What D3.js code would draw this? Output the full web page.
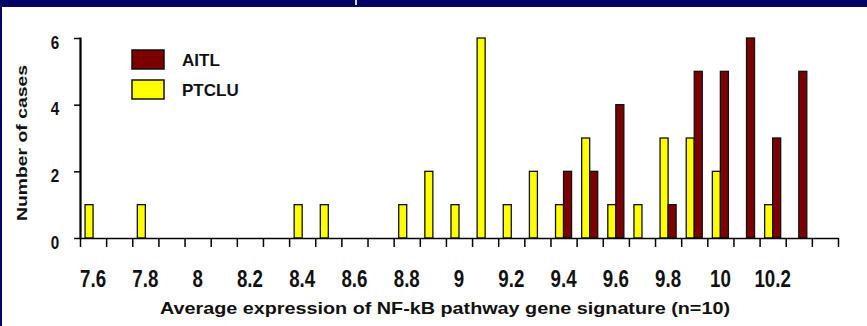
<!DOCTYPE html>
<html>
<head>
<meta charset="utf-8">
<script src="https://cdn.jsdelivr.net/npm/d3@7"></script>
<style>
  html, body { margin: 0; padding: 0; background: #fff; }
  svg { display: block; font-family: "Liberation Sans", Arial, sans-serif; }
</style>
</head>
<body>
<svg id="chart" width="867" height="326"></svg>
<script>
// ---- data ----
const categories = ["7.6","7.7","7.8","7.9","8.0","8.1","8.2","8.3","8.4","8.5","8.6","8.7","8.8","8.9","9.0","9.1","9.2","9.3","9.4","9.5","9.6","9.7","9.8","9.9","10.0","10.1","10.2","10.3","10.4"];
const ptcluCounts = [1,0,1,0,0,0,0,0,1,1,0,0,1,2,1,6,1,2,1,3,1,1,3,3,2,0,1,0,0];
const aitlCounts  = [0,0,0,0,0,0,0,0,0,0,0,0,0,0,0,0,0,0,2,2,4,0,1,5,5,6,3,5,0];
const xTickLabels = ["7.6","7.8","8","8.2","8.4","8.6","8.8","9","9.2","9.4","9.6","9.8","10","10.2"];
const yTickValues = [0,2,4,6];
const seriesNames = ["PTCLU","AITL"];
const legendOrder = ["AITL","PTCLU"];
const colors = { AITL: "#7d0000", PTCLU: "#ffff00" };
const xTitle = "Average expression of NF-kB pathway gene signature (n=10)";
const yTitle = "Number of cases";

(function () {
const svg = d3.select("#chart");

// frame decoration
svg.append("rect").attr("x",0).attr("y",0).attr("width",867).attr("height",7).attr("fill","#030366");
svg.append("rect").attr("x",0).attr("y",0).attr("width",2).attr("height",326).attr("fill","#030366");
svg.append("rect").attr("x",355).attr("y",0).attr("width",2).attr("height",5).attr("fill","#d8d8e8");

const pLeft = 80, pRight = 838, pTop = 38, pBottom = 238;

const x = d3.scaleBand().domain(categories).range([pLeft, pRight]).paddingInner(0).paddingOuter(0);
const xSub = d3.scaleBand().domain(seriesNames).range([0, x.bandwidth()]).paddingInner(0).paddingOuter(0.63);
const xEdge = d3.scaleLinear().domain([0, categories.length]).range([pLeft, pRight]);
const y = d3.scaleLinear().domain([0, 6]).range([pBottom, pTop]);

// bars
const rows = categories.map((c, i) => ({ c, PTCLU: ptcluCounts[i], AITL: aitlCounts[i] }));
const g = svg.append("g");
rows.forEach(r => {
  seriesNames.forEach(s => {
    if (r[s] > 0) {
      g.append("rect")
        .attr("x", x(r.c) + xSub(s))
        .attr("y", y(r[s]))
        .attr("width", xSub.bandwidth())
        .attr("height", y(0) - y(r[s]))
        .attr("fill", colors[s])
        .attr("stroke", "#111")
        .attr("stroke-width", 1.3);
    }
  });
});

// x axis: tick marks at bin edges
const xAxisG = svg.append("g").attr("transform", `translate(0,${pBottom})`)
  .call(d3.axisBottom(xEdge).tickValues(d3.range(categories.length + 1)).tickSize(9).tickSizeOuter(0).tickFormat(""));
xAxisG.selectAll("path,line").attr("stroke", "#000").attr("stroke-width", 1.5);

// x labels at bin centres
const labelCats = xTickLabels.map(t => categories.find(c => parseFloat(c) === parseFloat(t)));
const xLab = svg.append("g").attr("transform", `translate(0,${pBottom})`)
  .call(d3.axisBottom(x).tickValues(labelCats).tickSize(0)
        .tickFormat(c => xTickLabels[labelCats.indexOf(c)]));
xLab.select(".domain").remove();
xLab.selectAll("text")
  .attr("y", 49).attr("dy", 0)
  .attr("font-size", 24).attr("font-weight", "bold")
  .attr("font-family", "'Liberation Sans', Arial, sans-serif")
  .attr("fill", "#111")
  .attr("transform", "scale(0.78,1)");

// y axis
const yAxisG = svg.append("g").attr("transform", `translate(${pLeft},0)`)
  .call(d3.axisLeft(y).tickValues(yTickValues).tickSize(6).tickSizeOuter(0).tickFormat(""));
yAxisG.selectAll("path,line").attr("stroke", "#000").attr("stroke-width", 1.5);
yAxisG.selectAll(".tick text").remove();
yAxisG.selectAll(".tick").append("text")
  .attr("x", 0).attr("y", 0)
  .attr("transform", "translate(-25,10) scale(0.8,1)")
  .attr("text-anchor", "middle")
  .attr("font-size", 19).attr("font-weight", "bold")
  .attr("font-family", "'Liberation Sans', Arial, sans-serif")
  .attr("fill", "#111")
  .text(d => d);
// explicit vertical axis line (as a thin filled rect)
svg.append("rect")
  .attr("x", pLeft - 0.5).attr("width", 2)
  .attr("y", y(6) - 0.5).attr("height", y(0) - y(6) + 1.5)
  .attr("fill", "#000");

// axis titles
svg.append("text")
  .attr("x", 160).attr("y", 314)
  .attr("font-size", 17).attr("font-weight", "bold")
  .attr("textLength", 570).attr("lengthAdjust", "spacingAndGlyphs")
  .attr("fill", "#111")
  .text(xTitle);

svg.append("text")
  .attr("transform", "translate(27,143) rotate(-90)")
  .attr("text-anchor", "middle")
  .attr("font-size", 15).attr("font-weight", "bold")
  .attr("textLength", 156).attr("lengthAdjust", "spacingAndGlyphs")
  .attr("fill", "#111")
  .text(yTitle);

// legend
const legend = svg.append("g");
legendOrder.forEach((s, i) => {
  const ly = 50 + i * 30;
  legend.append("rect")
    .attr("x", 132).attr("y", ly).attr("width", 32).attr("height", 19)
    .attr("fill", colors[s]).attr("stroke", "#111").attr("stroke-width", 1.5);
  legend.append("text")
    .attr("x", 182).attr("y", ly + 16)
    .attr("font-size", 17).attr("font-weight", "bold")
    .attr("fill", "#111")
    .text(s);
});
})();
</script>
</body>
</html>
